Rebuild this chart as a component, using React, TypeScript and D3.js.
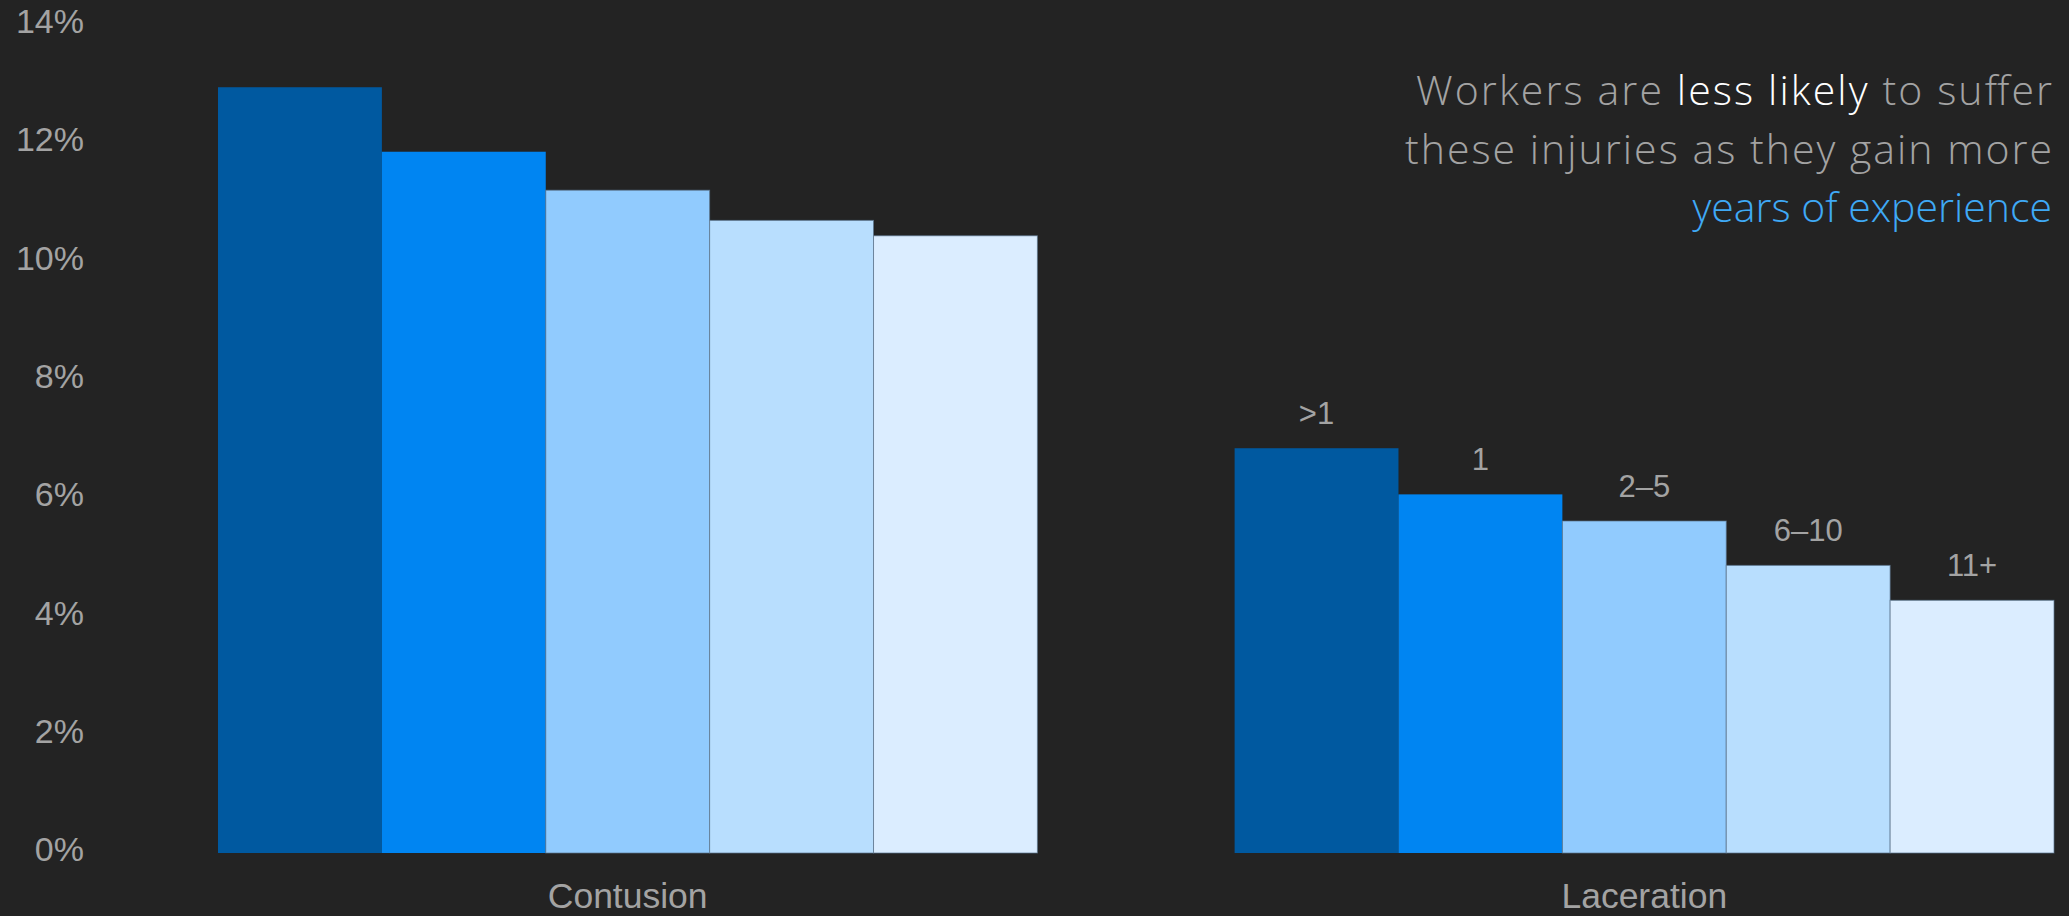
import React from "react";
import * as d3 from "d3";

const categories = ["Contusion", "Laceration"];
const experience = [">1", "1", "2–5", "6–10", "11+"];
const contusion = [12.94, 11.85, 11.2, 10.69, 10.43];
const laceration = [6.84, 6.06, 5.61, 4.86, 4.27];
const yTicks = [0, 2, 4, 6, 8, 10, 12, 14];
const colors = ["#0059A0", "#0085F2", "#91CBFE", "#B8DEFE", "#DBEDFF"];

const W = 2069;
const H = 916;
const BG = "#232323";
const GREY = "#a3a3a3";
const NOTE_FONT = "'Open Sans', 'Noto Sans', sans-serif";

export default function App() {
  const series = [contusion, laceration];
  const x0 = d3.scaleBand<string>().domain(categories).range([218, 2054]).paddingInner(0.194).paddingOuter(0);
  const x1 = d3.scaleBand<string>().domain(experience).range([0, x0.bandwidth()]).padding(0);
  const y = d3.scaleLinear().domain([0, 14]).range([853, 24.5]);
  const fmt = (v: number) => `${v}%`;

  return (
    <svg width={W} height={H} style={{ position: "absolute", left: 0, top: 0, display: "block" }}>
      <rect x={0} y={0} width={W} height={H} fill={BG} />
      {yTicks.map((t) => (
        <text
          key={t}
          x={84}
          y={y(t)}
          dy="-0.02em"
          dominantBaseline="middle"
          textAnchor="end"
          fill={GREY}
          fontFamily="'Liberation Sans', Arial, sans-serif"
          fontSize={34}
        >
          {fmt(t)}
        </text>
      ))}
      {categories.map((c, ci) => (
        <g key={c} transform={`translate(${x0(c)},0)`}>
          {experience.map((e, i) => {
            const v = series[ci][i];
            return (
              <rect
                key={e}
                x={x1(e)}
                y={y(v)}
                width={x1.bandwidth()}
                height={y(0) - y(v)}
                fill={colors[i]}
                stroke={i >= 2 ? "rgba(90,115,140,0.7)" : "none"}
                strokeWidth={i >= 2 ? 1 : 0}
              />
            );
          })}
          {ci === 1 &&
            experience.map((e, i) => (
              <text
                key={"l" + e}
                x={(x1(e) as number) + x1.bandwidth() / 2}
                y={y(series[ci][i]) - 24}
                textAnchor="middle"
                fill={GREY}
                fontFamily="'Liberation Sans', Arial, sans-serif"
                fontSize={31}
              >
                {e}
              </text>
            ))}
          <text
            x={x0.bandwidth() / 2}
            y={908}
            textAnchor="middle"
            fill={GREY}
            fontFamily="'Liberation Sans', Arial, sans-serif"
            fontSize={35.5}
          >
            {c}
          </text>
        </g>
      ))}
      <text
        x={2052}
        y={105}
        textAnchor="end"
        fontFamily={NOTE_FONT}
        fontWeight={300}
        fontSize={41}
        fill={GREY}
        textLength={636}
        lengthAdjust="spacing"
      >
        <tspan fill={GREY}>Workers are </tspan>
        <tspan fill="#ffffff">less likely</tspan>
        <tspan fill={GREY}> to suffer</tspan>
      </text>
      <text
        x={2052}
        y={164}
        textAnchor="end"
        fontFamily={NOTE_FONT}
        fontWeight={300}
        fontSize={41}
        fill={GREY}
        textLength={647}
        lengthAdjust="spacing"
      >
        these injuries as they gain more
      </text>
      <text x={2052} y={222} textAnchor="end" fontFamily={NOTE_FONT} fontWeight={300} fontSize={41} fill="#3FA9F5">
        years of experience
      </text>
    </svg>
  );
}
